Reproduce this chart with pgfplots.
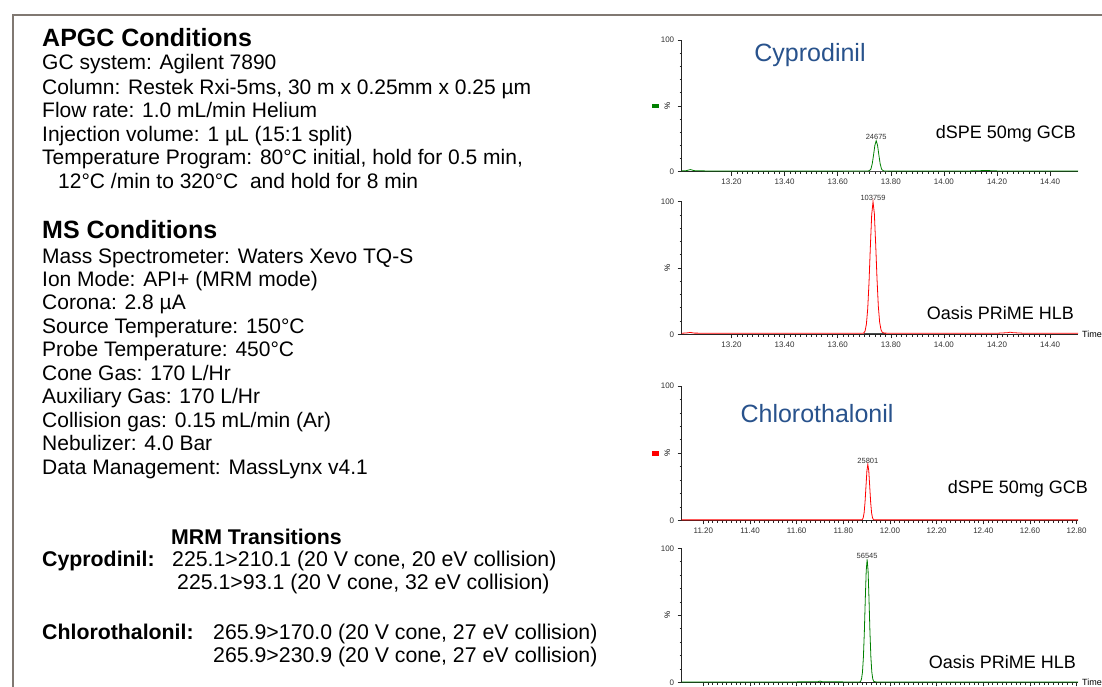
\documentclass[border=0pt]{standalone}
\usepackage{fontspec}
\setmainfont{Liberation Sans}
\usepackage{pgfplots}
\pgfplotsset{compat=1.18}
\definecolor{cgreen}{RGB}{0,128,0}
\definecolor{cred}{RGB}{255,0,0}
\definecolor{tblue}{RGB}{40,82,140}
\definecolor{frame}{RGB}{128,120,114}
\tikzset{
  body/.style={anchor=base west, inner sep=0pt, font=\fontsize{21}{25}\selectfont},
  mrm/.style={anchor=base west, inner sep=0pt, font=\fontsize{21.3}{25}\selectfont},
  mrmb/.style={anchor=base west, inner sep=0pt, font=\fontsize{21.3}{25}\selectfont\bfseries},
  head/.style={anchor=base west, inner sep=0pt, font=\fontsize{25}{29}\selectfont\bfseries},
  ctitle/.style={anchor=base, inner sep=0pt, text=tblue, font=\fontsize{25}{30}\selectfont},
  clabel/.style={anchor=base east, inner sep=0pt, font=\fontsize{18}{22}\selectfont},
}
\pgfplotsset{
  chrom/.style={
    scale only axis, width=396.3pt,
    axis x line*=bottom, axis y line*=left,
    ymin=0, ymax=100,
    ytick={0,50,100}, yticklabels={0,,100},
    minor y tick num=4, minor x tick num=9,
    tick align=outside, major tick length=4pt, minor tick length=2.2pt,
    axis line style={line width=1pt, black!85},
    tick style={black!85, line width=0.6pt},
    tick label style={font=\fontsize{8}{9}\selectfont, text=black!80},
    /pgf/number format/assume math mode=true,
    xticklabel style={/pgf/number format/fixed, /pgf/number format/precision=2, /pgf/number format/fixed zerofill},
    ylabel={\%},
    ylabel style={at={(axis description cs:-0.02,0.5)}, anchor=south, font=\fontsize{8}{9}\selectfont},
    clip=false,
  },
  cyp/.style={chrom, xmin=13.0125, xmax=14.505, xtick={13.2,13.4,13.6,13.8,14.0,14.2,14.4}},
  chl/.style={chrom, xmin=11.107, xmax=12.806, xtick={11.2,11.4,11.6,11.8,12.0,12.2,12.4,12.6,12.8}},
}
\begin{document}
\begin{tikzpicture}
\useasboundingbox (0pt,0pt) rectangle (1102pt,686pt);
\clip (0pt,0pt) rectangle (1102pt,686pt);
\fill[white] (0pt,0pt) rectangle (1102pt,686pt);
\draw[frame, line width=2.5pt] (13pt,-10pt) -- (13pt,671pt) -- (1120pt,671pt);

\begin{scope}[x=1pt,y=1pt]
\node[head] at (42,639) {APGC Conditions};
\node[body] at (42,616.5) {GC system: Agilent 7890};
\node[body] at (42,591.5) {Column: Restek Rxi-5ms, 30 m x 0.25mm x 0.25 µm};
\node[body] at (42,568.5) {Flow rate: 1.0 mL/min Helium};
\node[body] at (42,544.5) {Injection volume: 1 µL (15:1 split)};
\node[body] at (42,521.5) {Temperature Program: 80°C initial, hold for 0.5 min,};
\node[body] at (58,497.5) {12°C /min to 320°C\ \ and hold for 8 min};
\node[head] at (42,447) {MS Conditions};
\node[body] at (42,422.5) {Mass Spectrometer: Waters Xevo TQ-S};
\node[body] at (42,399.5) {Ion Mode: API+ (MRM mode)};
\node[body] at (42,376.5) {Corona: 2.8 µA};
\node[body] at (42,352.5) {Source Temperature: 150°C};
\node[body] at (42,329.5) {Probe Temperature: 450°C};
\node[body] at (42,305.5) {Cone Gas: 170 L/Hr};
\node[body] at (42,282.5) {Auxiliary Gas: 170 L/Hr};
\node[body] at (42,258.5) {Collision gas: 0.15 mL/min (Ar)};
\node[body] at (42,235.5) {Nebulizer: 4.0 Bar};
\node[body] at (42,211.5) {Data Management: MassLynx v4.1};
\node[mrmb] at (171,141.5) {MRM Transitions};
\node[mrmb] at (42,119.5) {Cyprodinil:};
\node[mrm] at (172,119.5) {225.1>210.1 (20 V cone, 20 eV collision)};
\node[mrm] at (177,96.5) {225.1>93.1 (20 V cone, 32 eV collision)};
\node[mrmb] at (42,46.5) {Chlorothalonil:};
\node[mrm] at (213,46.5) {265.9>170.0 (20 V cone, 27 eV collision)};
\node[mrm] at (213,23.5) {265.9>230.9 (20 V cone, 27 eV collision)};

\node[ctitle] at (810,624) {Cyprodinil};
\node[clabel] at (1076,547.5) {dSPE 50mg GCB};
\node[clabel] at (1074,366.5) {Oasis PRiME HLB};
\node[ctitle] at (817,264) {Chlorothalonil};
\node[clabel] at (1088,192.5) {dSPE 50mg GCB};
\node[clabel] at (1076,17.5) {Oasis PRiME HLB};
\fill[cgreen] (652,578) rectangle (659,582);
\fill[cred] (652,230) rectangle (659,235);
\end{scope}

% Cyprodinil, dSPE 50mg GCB
\begin{axis}[cyp, at={(681.7pt,514.3pt)}, anchor=origin, height=131.7pt]
\addplot[black!70, line width=0.8pt] coordinates {(13.62,0.3) (13.79,0.3)};
\addplot[cgreen, line width=0.8pt] coordinates {
(13.0125,0.6) (13.03,0.8) (13.045,1.6) (13.06,0.8) (13.10,0.6) (13.20,0.5) (13.30,0.6) (13.40,0.5)
(13.50,0.6) (13.60,0.6) (13.70,0.6) (13.715,0.6) (13.72,0.9) (13.725,2.0) (13.73,5.9) (13.735,12.7)
(13.74,20.1) (13.745,23.5) (13.75,20.1) (13.755,12.7) (13.76,5.9) (13.765,2.0) (13.77,0.9) (13.775,0.6)
(13.80,0.6) (13.90,0.6) (14.00,0.5) (14.10,0.6) (14.16,0.9) (14.20,0.6) (14.30,0.6) (14.40,0.6) (14.505,0.6)};
\node[anchor=south, inner sep=1pt, font=\fontsize{7.5}{8}\selectfont, text=black!80] at (axis cs:13.745,23.5) {24675};
\end{axis}

% Cyprodinil, Oasis PRiME HLB
\begin{axis}[cyp, at={(681.7pt,351.7pt)}, anchor=origin, height=132.6pt]
\addplot[black!70, line width=0.8pt] coordinates {(13.70,0.4) (13.78,0.4)};
\addplot[cred, line width=0.8pt] coordinates {
(13.0125,0.8) (13.03,1.0) (13.045,1.4) (13.06,0.9) (13.10,0.8) (13.20,0.8) (13.30,0.8) (13.40,0.8)
(13.50,0.8) (13.60,0.8) (13.69,0.8) (13.698,0.9) (13.703,2.4) (13.708,7.6) (13.713,19.2) (13.718,39.5)
(13.723,66.2) (13.728,90.2) (13.733,100) (13.738,91.0) (13.743,68.0) (13.748,42.0) (13.753,21.0)
(13.758,9.0) (13.763,3.5) (13.768,1.5) (13.775,0.9) (13.80,0.8) (13.90,0.8) (14.00,0.8) (14.10,0.8)
(14.20,0.8) (14.24,1.2) (14.25,1.6) (14.26,1.2) (14.30,0.8) (14.40,0.8) (14.505,0.8)};
\node[anchor=south, inner sep=1pt, font=\fontsize{7.5}{8}\selectfont, text=black!80] at (axis cs:13.733,100) {103759};
\node[anchor=west, inner sep=0pt, xshift=4pt, font=\fontsize{9}{10}\selectfont] at (rel axis cs:1,0) {Time};
\end{axis}

% Chlorothalonil, dSPE 50mg GCB
\begin{axis}[chl, at={(681.7pt,165.7pt)}, anchor=origin, height=134.3pt]
\addplot[cred, line width=0.8pt] coordinates {
(11.107,0.3) (11.20,0.3) (11.40,0.3) (11.60,0.3) (11.80,0.3) (11.87,0.3) (11.881,0.5) (11.885,1.8)
(11.889,5.6) (11.893,13.6) (11.897,25.3) (11.901,36.8) (11.905,41.7) (11.909,36.8) (11.913,25.3)
(11.917,13.6) (11.921,5.6) (11.925,1.8) (11.929,0.5) (11.94,0.3) (12.00,0.3) (12.20,0.3) (12.40,0.3)
(12.60,0.3) (12.806,0.3)};
\node[anchor=south, inner sep=1pt, font=\fontsize{7.5}{8}\selectfont, text=black!80] at (axis cs:11.905,41.7) {25801};
\end{axis}

% Chlorothalonil, Oasis PRiME HLB (tick labels fall below the picture's edge)
\begin{axis}[chl, at={(681.7pt,3.7pt)}, anchor=origin, height=134pt, xticklabels={}]
\addplot[cgreen, line width=0.8pt] coordinates {
(11.107,0.3) (11.20,0.3) (11.40,0.3) (11.60,0.3) (11.69,0.4) (11.70,0.9) (11.71,0.4) (11.80,0.3)
(11.87,0.3) (11.874,0.7) (11.878,2.6) (11.882,7.7) (11.886,18.9) (11.890,37.7) (11.894,61.9)
(11.898,83.2) (11.902,91.8) (11.906,83.2) (11.910,61.9) (11.914,37.7) (11.918,18.9) (11.922,7.7)
(11.926,2.6) (11.930,0.7) (11.94,0.3) (12.00,0.3) (12.20,0.3) (12.40,0.3) (12.60,0.3) (12.806,0.3)};
\node[anchor=south, inner sep=1pt, font=\fontsize{7.5}{8}\selectfont, text=black!80] at (axis cs:11.902,91.8) {56545};
\node[anchor=west, inner sep=0pt, xshift=4pt, font=\fontsize{9}{10}\selectfont] at (rel axis cs:1,0) {Time};
\end{axis}
\end{tikzpicture}
\end{document}
